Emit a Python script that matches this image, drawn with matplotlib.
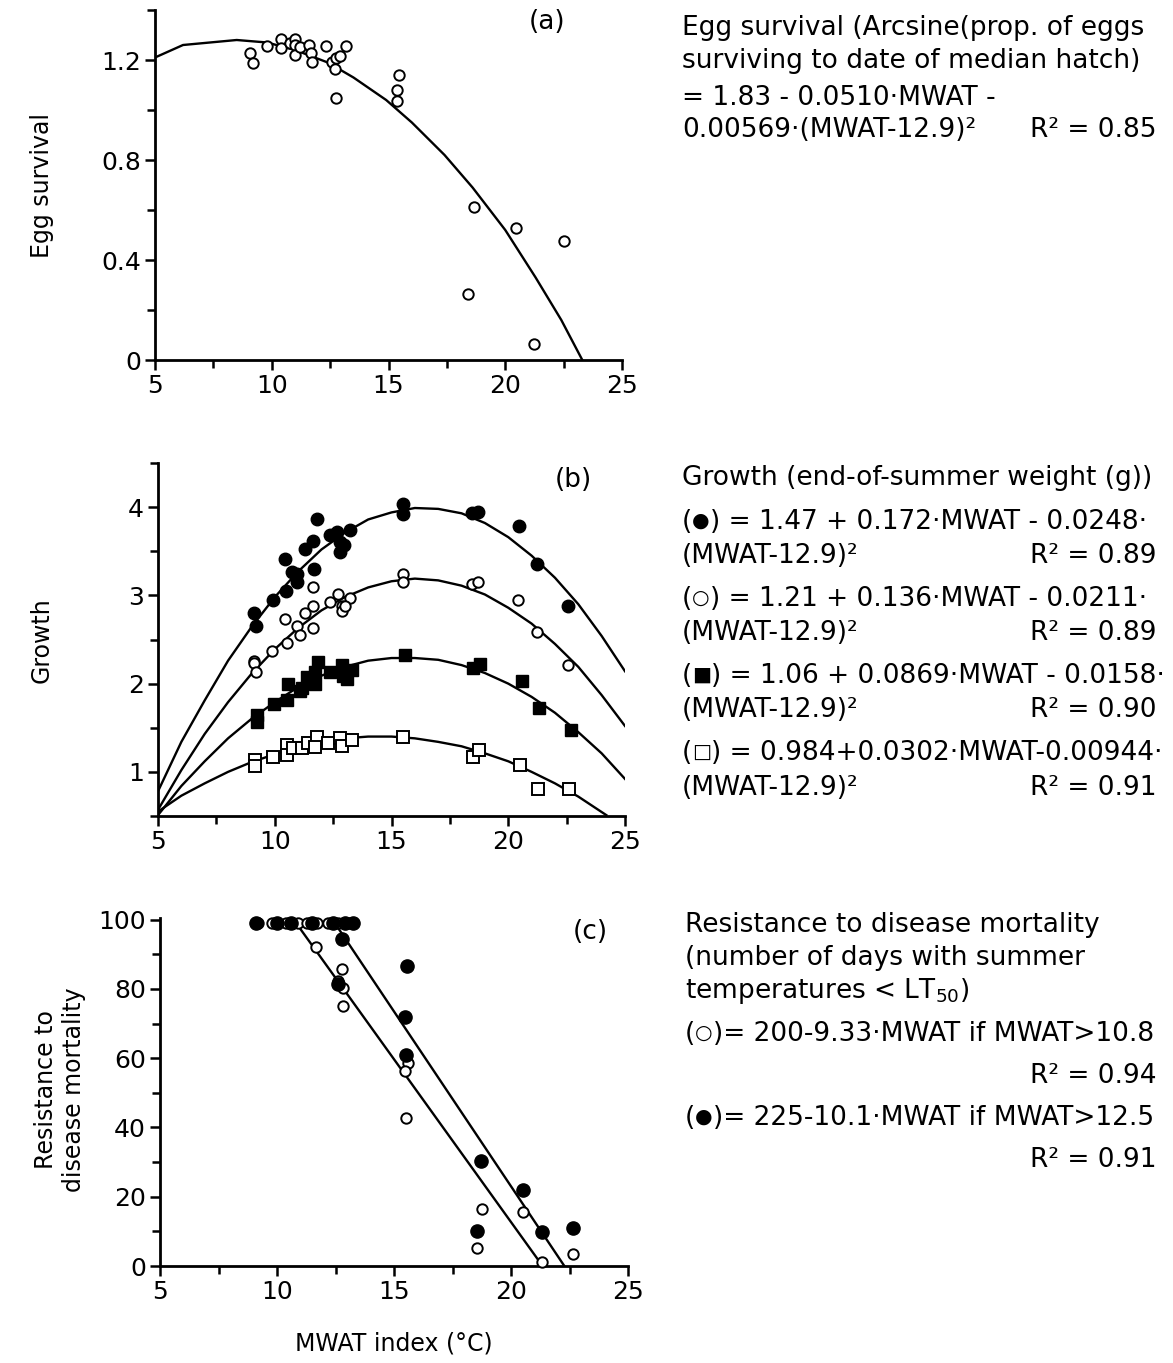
import matplotlib
matplotlib.use("Agg")
import matplotlib.pyplot as plt
from matplotlib.ticker import MultipleLocator

plt.rcParams['font.family'] = ['DejaVu Sans']
plt.rcParams['mathtext.fontset'] = 'dejavusans'

# ---------------- data: panel (a) egg survival ----------------
egg_x = [9.07, 9.18, 9.81, 10.40, 10.40, 10.78, 11.0, 11.0, 11.0, 11.21, 11.61, 11.68, 11.74,
         12.32, 12.57, 12.71, 12.76, 12.93, 13.17, 12.74, 15.46, 15.38, 15.38, 18.66, 20.45,
         22.50, 18.42, 21.22]
egg_y = [1.227, 1.19, 1.256, 1.283, 1.247, 1.269, 1.283, 1.26, 1.22, 1.253, 1.26, 1.227, 1.192,
         1.257, 1.193, 1.163, 1.207, 1.216, 1.257, 1.049, 1.141, 1.08, 1.035, 0.613, 0.528,
         0.476, 0.264, 0.064]
egg_fit_x = [5, 6.2, 8.5, 9.8, 11, 12.4, 13.5, 14.9, 16, 17.4, 18.6, 20, 21.3, 22.4, 23.3]
egg_fit_y = [1.21, 1.26, 1.28, 1.27, 1.24, 1.19, 1.13, 1.04, 0.95, 0.82, 0.69, 0.52, 0.33, 0.16, 0.0]

# ---------------- data: panel (b) growth ----------------
fc_x = [9.12, 9.20, 9.94, 10.48, 10.44, 10.73, 10.94, 10.94, 11.30, 11.62, 11.80, 11.69, 12.37,
        12.65, 12.79, 12.79, 12.98, 13.22, 15.48, 15.48, 18.43, 18.72, 20.47, 21.22, 22.57]
fc_y = [2.80, 2.65, 2.95, 3.05, 3.41, 3.26, 3.24, 3.15, 3.53, 3.62, 3.86, 3.30, 3.68,
        3.72, 3.61, 3.49, 3.57, 3.74, 4.03, 3.92, 3.93, 3.94, 3.79, 3.36, 2.88]
oc_x = [11.65, 11.62, 11.30, 10.44, 10.94, 11.65, 11.06, 10.51, 9.87, 9.12, 9.12, 9.18,
        12.37, 12.72, 12.87, 12.87, 13.22, 13.0, 15.48, 15.48, 18.43, 18.72, 20.43, 21.22, 22.57]
oc_y = [3.09, 2.88, 2.80, 2.73, 2.65, 2.63, 2.55, 2.46, 2.37, 2.26, 2.23, 2.13,
        2.93, 3.01, 2.88, 2.82, 2.97, 2.88, 3.24, 3.15, 3.13, 3.15, 2.95, 2.58, 2.21]
fs_x = [9.23, 9.23, 9.98, 10.51, 10.55, 11.08, 11.15, 11.37, 11.72, 11.87, 11.72, 12.37,
        12.87, 12.94, 13.08, 13.29, 15.58, 18.50, 18.79, 20.58, 21.33, 22.69]
fs_y = [1.65, 1.57, 1.77, 1.82, 2.00, 1.92, 1.95, 2.07, 2.00, 2.25, 2.13, 2.13,
        2.21, 2.09, 2.05, 2.16, 2.32, 2.18, 2.22, 2.03, 1.72, 1.48]
os_x = [9.15, 9.15, 9.91, 10.51, 10.51, 10.79, 11.15, 11.44, 11.80, 11.72, 12.29, 12.79,
        12.87, 13.29, 15.51, 18.48, 18.76, 20.50, 21.26, 22.62]
os_y = [1.13, 1.07, 1.17, 1.30, 1.19, 1.27, 1.27, 1.33, 1.40, 1.28, 1.33, 1.38,
        1.29, 1.36, 1.40, 1.17, 1.25, 1.08, 0.81, 0.81]
fit_b_x = [5, 6, 7, 8, 9, 10, 11, 12, 13, 14, 15, 16, 17, 18, 19, 20, 21, 22, 23, 24, 25]
fit_fc_y = [0.78, 1.34, 1.81, 2.26, 2.64, 2.98, 3.27, 3.52, 3.71, 3.86, 3.94, 3.99, 3.98,
            3.93, 3.82, 3.66, 3.45, 3.20, 2.90, 2.54, 2.14]
fit_oc_y = [0.57, 1.02, 1.43, 1.79, 2.11, 2.39, 2.63, 2.83, 2.98, 3.09, 3.16, 3.19, 3.17,
            3.11, 3.01, 2.86, 2.68, 2.45, 2.19, 1.87, 1.52]
fit_fs_y = [0.51, 0.84, 1.12, 1.38, 1.60, 1.79, 1.96, 2.09, 2.19, 2.26, 2.29, 2.29, 2.27,
            2.21, 2.12, 2.00, 1.85, 1.67, 1.45, 1.21, 0.92]
fit_os_x = [5, 6, 7, 8, 9, 10, 11, 12, 13, 14, 15, 16, 17, 18, 19, 20, 21, 22, 23, 24.2]
fit_os_y = [0.55, 0.73, 0.87, 1.00, 1.11, 1.20, 1.28, 1.34, 1.38, 1.40, 1.40, 1.38, 1.34,
            1.29, 1.21, 1.12, 1.00, 0.87, 0.72, 0.51]

# ---------------- data: panel (c) disease resistance ----------------
dc_open_x = [9.2, 9.8, 10.4, 10.9, 11.3, 11.7, 12.2, 12.6, 13.1,
             11.65, 12.79, 12.62, 12.83, 12.81, 15.58, 15.47, 15.5, 18.77, 18.56, 20.53, 21.31, 22.64]
dc_open_y = [99, 99, 99, 99, 99, 99, 99, 99, 99,
             92.0, 85.8, 82.2, 80.3, 75.1, 58.6, 56.2, 42.7, 16.5, 5.3, 15.5, 1.2, 3.5]
dc_fill_x = [9.1, 10.0, 10.6, 11.5, 12.4, 12.9, 13.25,
             12.76, 12.6, 15.54, 15.47, 15.5, 18.72, 18.53, 20.53, 21.31, 22.64]
dc_fill_y = [99, 99, 99, 99, 99, 99, 99,
             94.4, 81.5, 86.5, 71.8, 61.0, 30.3, 10.1, 22.0, 9.9, 11.1]
fit_open_x = [10.8, 21.35]
fit_open_y = [99.2, 0]
fit_fill_x = [12.5, 22.28]
fit_fill_y = [98.75, 0]

W, H = 1173, 1363
fig = plt.figure(figsize=(W / 100, H / 100), dpi=100)
renderer = fig.canvas.get_renderer()


def px_axes(l, r, t, b):
    return fig.add_axes([l / W, 1 - b / H, (r - l) / W, (b - t) / H])


def style(ax):
    for s in ('top', 'right'):
        ax.spines[s].set_visible(False)
    for s in ('left', 'bottom'):
        ax.spines[s].set_linewidth(2.0)
    ax.tick_params(which='both', direction='out', width=1.8, labelsize=18, pad=3)
    ax.tick_params(which='major', length=7)
    ax.tick_params(which='minor', length=6)
    ax.set_xlim(5, 25)
    ax.xaxis.set_major_locator(MultipleLocator(5))
    ax.xaxis.set_minor_locator(MultipleLocator(2.5))


LW = 1.7
ms_o = 7.5
mew = 1.4

# panel (a)
ax1 = px_axes(155, 622, 10, 360)
style(ax1)
ax1.set_ylim(0, 1.4)
ax1.yaxis.set_minor_locator(MultipleLocator(0.2))
ax1.set_yticks([0, 0.4, 0.8, 1.2])
ax1.set_yticklabels(['0', '0.4', '0.8', '1.2'])
ax1.plot(egg_fit_x, egg_fit_y, color='black', lw=LW, zorder=2)
ax1.plot(egg_x, egg_y, 'o', ms=ms_o, mfc='white', mec='black', mew=mew, zorder=3, clip_on=False)
ax1.text(0.84, 0.965, '(a)', transform=ax1.transAxes, fontsize=19, ha='center', va='center')

# panel (b)
ax2 = px_axes(158, 625, 463, 816)
style(ax2)
ax2.set_ylim(0.5, 4.5)
ax2.yaxis.set_major_locator(MultipleLocator(1))
ax2.yaxis.set_minor_locator(MultipleLocator(0.5))
for yy in (fit_fc_y, fit_oc_y, fit_fs_y):
    ax2.plot(fit_b_x, yy, color='black', lw=LW, zorder=2)
ax2.plot(fit_os_x, fit_os_y, color='black', lw=LW, zorder=2)
ax2.plot(fc_x, fc_y, 'o', ms=9, mfc='black', mec='black', zorder=3)
ax2.plot(oc_x, oc_y, 'o', ms=ms_o, mfc='white', mec='black', mew=mew, zorder=3)
ax2.plot(fs_x, fs_y, 's', ms=9, mfc='black', mec='black', zorder=3)
ax2.plot(os_x, os_y, 's', ms=9, mfc='white', mec='black', mew=mew, zorder=3)
ax2.text(0.889, 0.952, '(b)', transform=ax2.transAxes, fontsize=19, ha='center', va='center')

# panel (c)
ax3 = px_axes(160, 628, 918, 1266)
style(ax3)
ax3.set_ylim(0, 100.5)
ax3.yaxis.set_major_locator(MultipleLocator(20))
ax3.yaxis.set_minor_locator(MultipleLocator(10))
ax3.plot(fit_open_x, fit_open_y, color='black', lw=LW, zorder=2)
ax3.plot(fit_fill_x, fit_fill_y, color='black', lw=LW, zorder=2)
ax3.plot(dc_open_x, dc_open_y, 'o', ms=ms_o, mfc='white', mec='black', mew=mew, zorder=3, clip_on=False)
ax3.plot(dc_fill_x, dc_fill_y, 'o', ms=9.5, mfc='black', mec='black', zorder=4, clip_on=False)
ax3.text(0.919, 0.96, '(c)', transform=ax3.transAxes, fontsize=19, ha='center', va='center')

# axis titles
fig.text(42 / W, 1 - 185 / H, 'Egg survival', rotation=90, fontsize=17, ha='center', va='center')
fig.text(42 / W, 1 - 640 / H, 'Growth', rotation=90, fontsize=17, ha='center', va='center')
fig.text(60 / W, 1 - 1090 / H, 'Resistance to\ndisease mortality', rotation=90, fontsize=17,
         ha='center', va='center', linespacing=1.2)
fig.text(394 / W, 1 - 1343 / H, 'MWAT index (°C)', fontsize=17, ha='center', va='center')

FS = 19


def t(x, y, s, ha='left'):
    fig.text(x / W, 1 - y / H, s, fontsize=FS, ha=ha, va='center')


def seq(x, y, parts):
    """Draw text segments [(string, fontsize, dy_px), ...] left to right on one baseline."""
    xx = x
    for s, fs, dy in parts:
        txt = fig.text(xx / W, 1 - (y - dy) / H, s, fontsize=fs, ha='left', va='baseline')
        bb = txt.get_window_extent(renderer)
        xx += bb.width


def sym_line(x, y, sym, rest):
    seq(x, y + 7, [('(', FS, 0), (sym, 14.5, 2.5), (rest, FS, 0)])


XL = 682
XR = 1156
# block (a)
t(XL, 28, 'Egg survival (Arcsine(prop. of eggs')
t(XL, 61, 'surviving to date of median hatch)')
t(XL, 98, '= 1.83 - 0.0510·MWAT -')
t(XL, 130, '0.00569·(MWAT-12.9)²')
t(XR, 130, 'R² = 0.85', ha='right')

# block (b)
t(XL, 478, 'Growth (end-of-summer weight (g))')
sym_line(XL, 522, '●', ') = 1.47 + 0.172·MWAT - 0.0248·')
t(XL, 556, '(MWAT-12.9)²')
t(XR, 556, 'R² = 0.89', ha='right')
sym_line(XL, 599, '○', ') = 1.21 + 0.136·MWAT - 0.0211·')
t(XL, 633, '(MWAT-12.9)²')
t(XR, 633, 'R² = 0.89', ha='right')
sym_line(XL, 676, '■', ') = 1.06 + 0.0869·MWAT - 0.0158·')
t(XL, 710, '(MWAT-12.9)²')
t(XR, 710, 'R² = 0.90', ha='right')
sym_line(XL, 753, '□', ') = 0.984+0.0302·MWAT-0.00944·')
t(XL, 788, '(MWAT-12.9)²')
t(XR, 788, 'R² = 0.91', ha='right')

# block (c)
XC = 685
t(XC, 925, 'Resistance to disease mortality')
t(XC, 958, '(number of days with summer')
t(XC, 991, r'temperatures < LT$_{\mathrm{50}}$)')
sym_line(XC, 1034, '○', ')= 200-9.33·MWAT if MWAT>10.8')
t(XR, 1076, 'R² = 0.94', ha='right')
sym_line(XC, 1118, '●', ')= 225-10.1·MWAT if MWAT>12.5')
t(XR, 1160, 'R² = 0.91', ha='right')

fig.savefig('out.png', dpi=100, facecolor='white')
